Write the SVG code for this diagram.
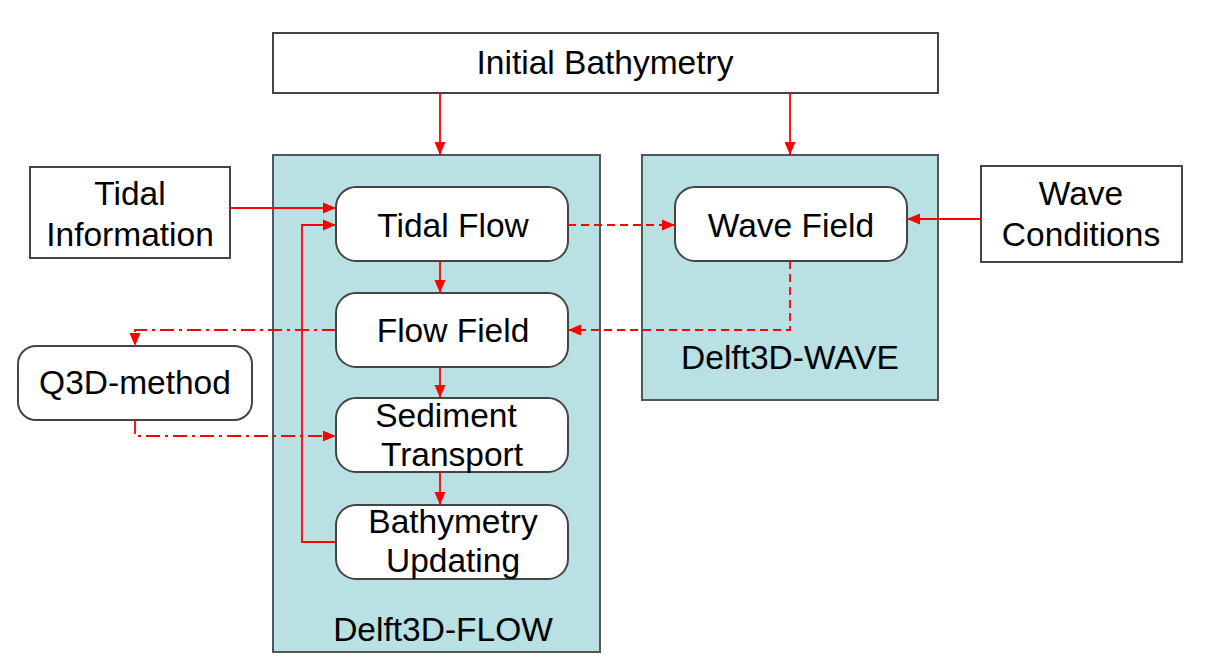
<svg xmlns="http://www.w3.org/2000/svg" width="1206" height="668" viewBox="0 0 1206 668">
<defs>
<marker id="ah" markerWidth="13" markerHeight="13" viewBox="0 0 13 13" refX="13" refY="6.5" orient="auto" markerUnits="userSpaceOnUse">
<path d="M0,1 L13,6.5 L0,12 Z" fill="#ff0000"/>
</marker>
<style>
.box{fill:#ffffff;stroke:#444;stroke-width:2}
.cont{fill:#b9e0e3;stroke:#555;stroke-width:2}
.t{font-family:"Liberation Sans",Arial,sans-serif;font-size:33.5px;fill:#000;text-anchor:middle}
.c{fill:none;stroke:#ff0000;stroke-width:1.8}
.dash{stroke-dasharray:8,5}
.dd{stroke-dasharray:14,5,3,5}
</style>
</defs>
<rect width="1206" height="668" fill="#ffffff"/>
<g id="flow-container"><rect class="cont" x="273" y="155" width="327" height="497"/><text class="t" x="443" y="641">Delft3D-FLOW</text></g>
<g id="wave-container"><rect class="cont" x="642" y="155" width="296" height="245"/><text class="t" x="790" y="369">Delft3D-WAVE</text></g>
<g id="initial-bathymetry"><rect class="box" x="273" y="33" width="665" height="60"/><text class="t" x="605" y="74">Initial Bathymetry</text></g>
<g id="tidal-information"><rect class="box" x="30" y="167" width="200" height="91"/><text class="t" x="130" y="205">Tidal</text><text class="t" x="130" y="246">Information</text></g>
<g id="wave-conditions"><rect class="box" x="981" y="166" width="201" height="96"/><text class="t" x="1081" y="205">Wave</text><text class="t" x="1081" y="246">Conditions</text></g>
<g id="q3d"><rect class="box" x="18" y="346" width="234" height="74" rx="18"/><text class="t" x="135" y="394">Q3D-method</text></g>
<g id="tidal-flow"><rect class="box" x="336" y="187" width="232" height="74" rx="20"/><text class="t" x="453" y="237">Tidal Flow</text></g>
<g id="flow-field"><rect class="box" x="336" y="293" width="232" height="74" rx="20"/><text class="t" x="453" y="342">Flow Field</text></g>
<g id="sediment-transport"><rect class="box" x="336" y="398" width="232" height="74" rx="20"/><text class="t" x="446" y="427">Sediment</text><text class="t" x="452" y="466">Transport</text></g>
<g id="bathymetry-updating"><rect class="box" x="336" y="505" width="232" height="74" rx="20"/><text class="t" x="453" y="533">Bathymetry</text><text class="t" x="453" y="572">Updating</text></g>
<g id="wave-field"><rect class="box" x="675" y="187" width="232" height="74" rx="20"/><text class="t" x="791" y="237">Wave Field</text></g>
<g id="connectors">
<line class="c" x1="440" y1="93" x2="440" y2="155" marker-end="url(#ah)"/>
<line class="c" x1="790" y1="93" x2="790" y2="155" marker-end="url(#ah)"/>
<line class="c" x1="230" y1="208" x2="336" y2="208" marker-end="url(#ah)"/>
<polyline class="c" points="336,542 302,542 302,225 336,225" marker-end="url(#ah)"/>
<line class="c" x1="440" y1="261" x2="440" y2="293" marker-end="url(#ah)"/>
<line class="c" x1="440" y1="367" x2="440" y2="398" marker-end="url(#ah)"/>
<line class="c" x1="440" y1="472" x2="440" y2="505" marker-end="url(#ah)"/>
<line class="c dash" x1="568" y1="225" x2="675" y2="225" marker-end="url(#ah)"/>
<polyline class="c dash" points="790,261 790,330 568,330" marker-end="url(#ah)"/>
<line class="c" x1="982" y1="219" x2="907" y2="219" marker-end="url(#ah)"/>
<polyline class="c dd" points="336,330 135,330 135,346" marker-end="url(#ah)"/>
<polyline class="c dd" points="135,420 135,436 336,436" marker-end="url(#ah)"/>
</g>
</svg>
